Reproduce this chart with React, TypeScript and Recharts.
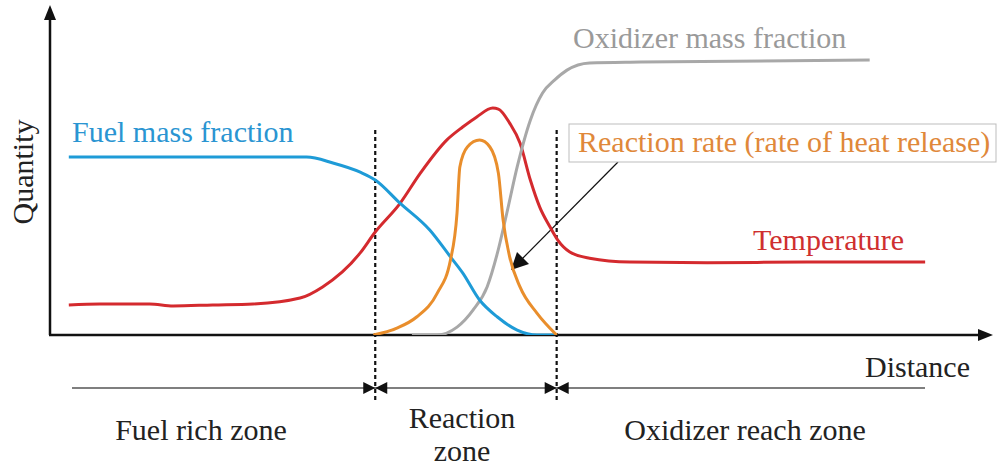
import React from 'react';
import { LineChart, Line, XAxis, YAxis, ReferenceLine, Customized } from 'recharts';

// Profiles across a diffusion flame: distance (0-100) vs. relative quantity (0-100)
const fuelMassFraction = [
  { d: 2.0, q: 54.4 }, { d: 27.3, q: 54.4 }, { d: 30.1, q: 52.6 }, { d: 33.0, q: 49.8 },
  { d: 34.6, q: 47.4 }, { d: 37.2, q: 40.4 }, { d: 40.4, q: 32.1 }, { d: 42.6, q: 23.9 },
  { d: 43.9, q: 19.0 }, { d: 45.7, q: 10.7 }, { d: 47.6, q: 5.5 }, { d: 49.7, q: 1.5 },
  { d: 51.8, q: 0 }, { d: 53.9, q: 0 },
];

const temperature = [
  { d: 2.0, q: 9.2 }, { d: 5.3, q: 9.5 }, { d: 10.6, q: 9.5 }, { d: 13.1, q: 8.9 },
  { d: 17.3, q: 9.2 }, { d: 21.6, q: 9.5 }, { d: 26.6, q: 11.3 }, { d: 29.0, q: 14.7 },
  { d: 33.0, q: 25.1 }, { d: 34.6, q: 31.5 }, { d: 37.2, q: 40.1 }, { d: 39.4, q: 49.5 },
  { d: 42.2, q: 59.6 }, { d: 43.9, q: 63.6 }, { d: 45.4, q: 66.7 }, { d: 47.1, q: 69.4 },
  { d: 47.7, q: 69.1 }, { d: 48.9, q: 64.8 }, { d: 50.0, q: 58.7 }, { d: 51.1, q: 47.4 },
  { d: 52.1, q: 39.1 }, { d: 53.2, q: 33.0 }, { d: 54.0, q: 29.1 }, { d: 55.3, q: 25.4 },
  { d: 57.4, q: 23.5 }, { d: 61.7, q: 22.3 }, { d: 69.9, q: 22.1 }, { d: 80.5, q: 22.3 },
  { d: 93.1, q: 22.3 },
];

const reactionRate = [
  { d: 34.4, q: 0 }, { d: 36.9, q: 2.1 }, { d: 39.0, q: 5.5 }, { d: 41.2, q: 12.8 },
  { d: 42.6, q: 22.9 }, { d: 43.3, q: 37.3 }, { d: 43.6, q: 51.4 }, { d: 44.4, q: 57.5 },
  { d: 45.7, q: 59.6 }, { d: 46.8, q: 57.5 }, { d: 47.7, q: 49.5 }, { d: 48.2, q: 35.2 },
  { d: 48.9, q: 23.9 }, { d: 50.0, q: 14.7 }, { d: 51.8, q: 6.7 }, { d: 53.9, q: 0 },
];

const oxidizerMassFraction = [
  { d: 38.5, q: 0 }, { d: 41.2, q: 0 }, { d: 43.3, q: 2.4 }, { d: 45.0, q: 7.6 },
  { d: 46.5, q: 14.7 }, { d: 47.6, q: 25.1 }, { d: 48.6, q: 37.3 }, { d: 49.7, q: 51.4 },
  { d: 51.1, q: 65.7 }, { d: 52.4, q: 74.0 }, { d: 53.7, q: 78.0 }, { d: 55.0, q: 81.0 },
  { d: 57.4, q: 83.2 }, { d: 62.8, q: 83.5 }, { d: 87.2, q: 84.1 },
];

// Zone boundaries along the distance axis
const zoneBounds = [34.6, 53.9];

const W = 999;
const H = 466;
const M = { top: 8, right: 9, left: 50, bottom: 131 };
const PLOT_R = W - M.right;
const PLOT_B = H - M.bottom;
const xPx = (d: number) => M.left + (d / 100) * (PLOT_R - M.left);

const textStyle: React.CSSProperties = {
  fontFamily: "'Liberation Serif', 'DejaVu Serif', 'Times New Roman', serif",
  fontSize: 30,
};

const Label = (p: { x: number; y: number; fill: string; anchor?: 'start' | 'middle'; transform?: string; children: string }) => (
  <text
    x={p.x}
    y={p.y}
    fill={p.fill}
    textAnchor={p.anchor ?? 'start'}
    transform={p.transform}
    style={textStyle}
  >
    {p.children}
  </text>
);

const Decorations = () => {
  const dimY = 388;
  return (
    <g>
      {/* axes with arrowheads */}
      <line x1={M.left} y1={PLOT_B} x2={M.left} y2={18} stroke="#111" strokeWidth={2.5} />
      <polygon points={`${M.left},5 ${M.left - 6},20 ${M.left + 6},20`} fill="#111" />
      <line x1={M.left - 1} y1={PLOT_B} x2={980} y2={PLOT_B} stroke="#111" strokeWidth={2.5} />
      <polygon points={`993,${PLOT_B} 978,${PLOT_B - 6} 978,${PLOT_B + 6}`} fill="#111" />

      {/* zone dimension line */}
      <line x1={72} y1={dimY} x2={925} y2={dimY} stroke="#555" strokeWidth={1.5} />
      {zoneBounds.map((b) => {
        const x = xPx(b);
        return (
          <g key={b}>
            <polygon points={`${x},${dimY} ${x - 12},${dimY - 6} ${x - 12},${dimY + 6}`} fill="#111" />
            <polygon points={`${x},${dimY} ${x + 12},${dimY - 6} ${x + 12},${dimY + 6}`} fill="#111" />
          </g>
        );
      })}

      {/* callout for the reaction rate */}
      <line x1={618} y1={162} x2={520} y2={261} stroke="#111" strokeWidth={1.2} />
      <polygon points="511,270 517,252 529,264" fill="#111" />
      <rect x={569} y={124} width={427} height={38} fill="#fff" stroke="#bdbdbd" strokeWidth={1} />

      <Label x={72} y={142} fill="#2a95d2">Fuel mass fraction</Label>
      <Label x={573} y={48} fill="#9a9a9a">Oxidizer mass fraction</Label>
      <Label x={578} y={152} fill="#e0883a">Reaction rate (rate of heat release)</Label>
      <Label x={753} y={250} fill="#cf2f2f">Temperature</Label>
      <Label x={865} y={377} fill="#222">Distance</Label>
      <Label x={0} y={0} anchor="middle" transform="translate(33,172) rotate(-90)" fill="#222">Quantity</Label>
      <Label x={201} y={440} anchor="middle" fill="#222">Fuel rich zone</Label>
      <Label x={462} y={428} anchor="middle" fill="#222">Reaction</Label>
      <Label x={462} y={461} anchor="middle" fill="#222">zone</Label>
      <Label x={745} y={440} anchor="middle" fill="#222">Oxidizer reach zone</Label>
    </g>
  );
};

export default function App() {
  return (
    <div style={{ position: 'absolute', left: 0, top: 0, background: '#fff' }}>
      <LineChart width={W} height={H} margin={M}>
        <XAxis dataKey="d" type="number" domain={[0, 100]} hide allowDataOverflow />
        <YAxis dataKey="q" type="number" domain={[0, 100]} hide allowDataOverflow />
        <Customized component={Decorations} />
        {zoneBounds.map((b) => (
          <ReferenceLine
            key={b}
            segment={[{ x: b, y: 62.7 }, { x: b, y: -19.9 }]}
            stroke="#111"
            strokeWidth={2.2}
            strokeDasharray="4 3"
            ifOverflow="visible"
          />
        ))}
        <Line data={temperature} dataKey="q" type="monotone" stroke="#d42a2e" strokeWidth={3} dot={false} isAnimationActive={false} />
        <Line data={oxidizerMassFraction} dataKey="q" type="monotone" stroke="#a8a8a8" strokeWidth={3} dot={false} isAnimationActive={false} />
        <Line data={fuelMassFraction} dataKey="q" type="monotone" stroke="#1e9bd7" strokeWidth={3} dot={false} isAnimationActive={false} />
        <Line data={reactionRate} dataKey="q" type="monotone" stroke="#e98e2c" strokeWidth={3} dot={false} isAnimationActive={false} />
      </LineChart>
    </div>
  );
}
